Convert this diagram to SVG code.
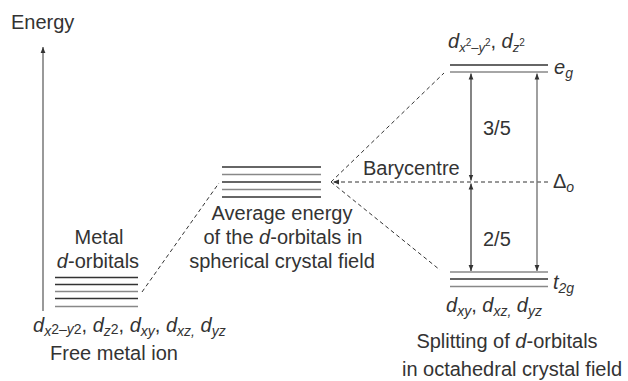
<svg xmlns="http://www.w3.org/2000/svg" width="628" height="381" viewBox="0 0 628 381">
<style>
text{font-family:"Liberation Sans",Arial,sans-serif;font-size:20px;fill:#333}
.i{font-style:italic}
.s{font-size:14px}
.s2{font-size:13px}
.ss{font-size:10px}
.dk{stroke:#333;stroke-width:1.6}
.gr{stroke:#888;stroke-width:1.6}
.dash{stroke:#333;stroke-width:1;stroke-dasharray:4 3;fill:none}
.ar{stroke:#333;stroke-width:1.2;fill:none}
</style>
<defs>
<marker id="ah" viewBox="0 0 10 10" refX="10" refY="5" markerWidth="6" markerHeight="6" orient="auto-start-reverse" markerUnits="userSpaceOnUse">
<path d="M0,1 L10,5 L0,9 z" fill="#333"/>
</marker>
</defs>
<g id="axis">
<line x1="43" y1="311" x2="43" y2="47" stroke="#777" stroke-width="1.5" marker-end="url(#ah)"/>
<text x="11" y="29">Energy</text>
</g>
<g id="free-ion">
<line class="dk" x1="55" y1="277.5" x2="138" y2="277.5"/>
<line class="dk" x1="55" y1="284.5" x2="138" y2="284.5"/>
<line class="gr" x1="55" y1="291.5" x2="138" y2="291.5"/>
<line class="dk" x1="55" y1="298.5" x2="138" y2="298.5"/>
<line class="gr" x1="55" y1="306.5" x2="138" y2="306.5"/>
<text x="99" y="244" text-anchor="middle">Metal</text>
<text x="98" y="268" text-anchor="middle"><tspan class="i">d</tspan>-orbitals</text>
<text x="33" y="332"><tspan class="i">d</tspan><tspan class="s i" dy="4">x</tspan><tspan class="s" dy="-2">2</tspan><tspan class="s">–</tspan><tspan class="s i">y</tspan><tspan class="s">2</tspan><tspan dy="-2">, </tspan><tspan class="i">d</tspan><tspan class="s i" dy="4">z</tspan><tspan class="s" dy="-2">2</tspan><tspan dy="-2">, </tspan><tspan class="i">d</tspan><tspan class="s i" dy="4">xy</tspan><tspan dy="-4">, </tspan><tspan class="i">d</tspan><tspan class="s i" dy="4">xz,</tspan><tspan dy="-4"> </tspan><tspan class="i">d</tspan><tspan class="s i" dy="4">yz</tspan></text>
<text x="114" y="360" text-anchor="middle">Free metal ion</text>
</g>
<g id="spherical">
<line class="dk" x1="222" y1="167" x2="321" y2="167"/>
<line class="gr" x1="222" y1="174.5" x2="321" y2="174.5"/>
<line class="dk" x1="222" y1="182" x2="321" y2="182"/>
<line class="gr" x1="222" y1="189.5" x2="321" y2="189.5"/>
<line class="dk" x1="222" y1="197" x2="321" y2="197"/>
<text x="282" y="220" text-anchor="middle">Average energy</text>
<text x="283" y="244" text-anchor="middle">of the <tspan class="i">d</tspan>-orbitals in</text>
<text x="282" y="268" text-anchor="middle">spherical crystal field</text>
</g>
<g id="eg">
<line class="dk" x1="450" y1="65" x2="548" y2="65"/>
<line class="gr" x1="450" y1="72" x2="548" y2="72"/>
<text x="554" y="74"><tspan class="i">e</tspan><tspan class="s i" dy="4">g</tspan></text>
<text x="448" y="48"><tspan class="i">d</tspan><tspan class="s2 i" dy="4">x</tspan><tspan class="ss" dy="-6">2</tspan><tspan class="s2" dy="6">–</tspan><tspan class="s2 i">y</tspan><tspan class="ss" dy="-6">2</tspan><tspan dy="2">, </tspan><tspan class="i">d</tspan><tspan class="s2 i" dy="4">z</tspan><tspan class="ss" dy="-6">2</tspan></text>
</g>
<g id="t2g">
<line class="gr" x1="450" y1="272" x2="548" y2="272"/>
<line class="dk" x1="450" y1="279" x2="548" y2="279"/>
<line class="gr" x1="450" y1="286.5" x2="548" y2="286.5"/>
<text x="553" y="289"><tspan class="i">t</tspan><tspan class="s i" dy="4">2g</tspan></text>
<text x="446" y="312"><tspan class="i">d</tspan><tspan class="s i" dy="4">xy</tspan><tspan dy="-4">, </tspan><tspan class="i">d</tspan><tspan class="s i" dy="4">xz,</tspan><tspan dy="-4"> </tspan><tspan class="i">d</tspan><tspan class="s i" dy="4">yz</tspan></text>
<text x="507" y="348" text-anchor="middle">Splitting of <tspan class="i">d</tspan>-orbitals</text>
<text x="512" y="376" text-anchor="middle">in octahedral crystal field</text>
</g>
<g id="barycentre">
<text x="363" y="175">Barycentre</text>
<text x="553" y="188">Δ<tspan class="s i" dy="4">o</tspan></text>
<text x="483" y="135">3/5</text>
<text x="483" y="246">2/5</text>
</g>
<g id="connectors">
<line class="dash" x1="142" y1="292" x2="219" y2="183"/>
<line class="dash" x1="331" y1="182" x2="444" y2="73"/>
<line class="dash" x1="331" y1="182" x2="440" y2="270"/>
<line class="dash" x1="548" y1="182" x2="333" y2="182" marker-end="url(#ah)"/>
<line class="ar" x1="471" y1="73.5" x2="471" y2="180.5" marker-start="url(#ah)" marker-end="url(#ah)"/>
<line class="ar" x1="471" y1="183.5" x2="471" y2="271" marker-start="url(#ah)" marker-end="url(#ah)"/>
<line x1="537" y1="73.5" x2="537" y2="271" stroke="#777" stroke-width="1.4" marker-start="url(#ah)" marker-end="url(#ah)"/>
</g>
</svg>
